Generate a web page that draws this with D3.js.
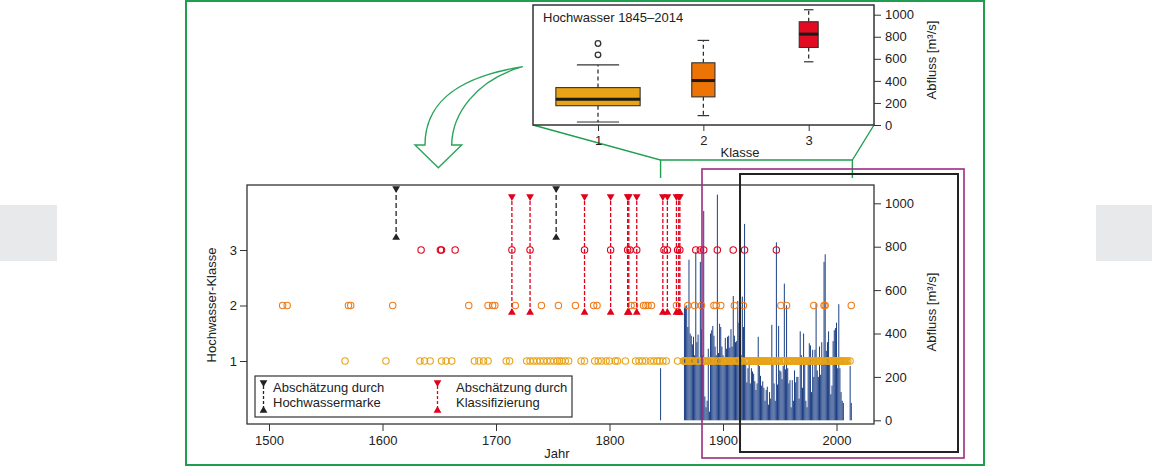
<!DOCTYPE html>
<html>
<head>
	<meta charset="utf-8">
	<title>Hochwasser</title>
	<script src="https://cdn.jsdelivr.net/npm/d3@7/dist/d3.min.js"></script>
	<style>
		body { margin: 0; background: #fff; }
		text { font-family: "Liberation Sans", Arial, sans-serif; font-size: 13px; fill: #222; }
	</style>
</head>
<body>
	<script>
		// Hochwasser-Klassen der einzelnen Jahre
		var klasse1 = [1567, 1603, 1633, 1637, 1642, 1652, 1656, 1661, 1681, 1685, 1689, 1693, 1709, 1712,
			1727, 1730, 1733, 1736, 1739, 1742, 1745, 1748, 1751, 1754, 1756, 1758, 1761, 1764, 1775, 1778,
			1787, 1790, 1793, 1797, 1800, 1805, 1807, 1814, 1823, 1826, 1829, 1832, 1836, 1839, 1842, 1844,
			1847, 1850, 1860,
			1865, 1866, 1867, 1868, 1870, 1871, 1872, 1873, 1874, 1877, 1878, 1879, 1882, 1884, 1885, 1886,
			1887, 1888, 1889, 1890, 1891, 1893, 1896, 1897, 1899, 1900, 1901, 1902, 1903, 1904, 1905, 1906,
			1907, 1908, 1911, 1912, 1913, 1914, 1915, 1916, 1917, 1920, 1921, 1922, 1923, 1924, 1925, 1926,
			1927, 1928, 1929, 1930, 1931, 1932, 1933, 1934, 1935, 1936, 1937, 1938, 1939, 1940, 1941, 1942,
			1943, 1944, 1945, 1946, 1948, 1949, 1950, 1952, 1953, 1954, 1955, 1957, 1958, 1959, 1960, 1961,
			1962, 1963, 1964, 1965, 1966, 1967, 1968, 1969, 1970, 1971, 1972, 1973, 1974, 1975, 1976, 1977,
			1978, 1979, 1981, 1982, 1983, 1984, 1985, 1986, 1987, 1988, 1991, 1992, 1993, 1994, 1995, 1996,
			1997, 1998, 1999, 2000, 2001, 2002, 2003, 2004, 2005, 2006, 2007, 2008, 2009, 2010, 2012];
		var klasse2 = [1512, 1516, 1570, 1572, 1609, 1676, 1693, 1697, 1699, 1717, 1740, 1755, 1770, 1786,
			1789, 1819, 1822, 1830, 1832, 1834, 1837, 1859, 1869, 1875, 1881, 1892, 1894, 1898, 1910, 1918,
			1951, 1956, 1980, 1989, 1990, 2013];
		var klasse3 = [1634, 1651, 1652, 1664, 1714, 1730, 1778, 1801, 1816, 1818, 1824, 1848, 1851, 1860,
			1862, 1876, 1880, 1883, 1895, 1909, 1919, 1947];

		// Abschaetzungen (Abfluss-Spannen in m3/s)
		var markeJahre = [1612, 1753];
		var markeSpanne = [835, 1075];
		var klassJahre = [1714, 1730, 1778, 1801, 1816, 1817, 1824, 1847, 1851, 1859, 1861, 1862];
		var klassSpanne = [490, 1038];

		// gemessene Jahreshoechstabfluesse
		var abflussJahre = [1845,
			1866, 1867, 1868, 1869, 1870, 1871, 1872, 1873, 1874, 1875, 1876, 1877, 1878, 1879, 1880,
			1881, 1882, 1883, 1884, 1885, 1886, 1887, 1888, 1889, 1890, 1891, 1892, 1893, 1894, 1895,
			1896, 1897, 1898, 1899, 1900, 1901, 1902, 1903, 1904, 1905, 1906, 1907, 1908, 1909, 1910,
			1911, 1912, 1913, 1914, 1915, 1916, 1917, 1918, 1919, 1920, 1921, 1922, 1923, 1924, 1925,
			1926, 1927, 1928, 1929, 1930, 1931, 1932, 1933, 1934, 1935, 1936, 1937, 1938, 1939, 1940,
			1941, 1942, 1943, 1944, 1945, 1946, 1947, 1948, 1949, 1950, 1951, 1952, 1953, 1954, 1955,
			1956, 1957, 1958, 1959, 1960, 1961, 1962, 1963, 1964, 1965, 1966, 1967, 1968, 1969, 1970,
			1971, 1972, 1973, 1974, 1975, 1976, 1977, 1978, 1979, 1980, 1981, 1982, 1983, 1984, 1985,
			1986, 1987, 1988, 1989, 1990, 1991, 1992, 1993, 1994, 1995, 1996, 1997, 1998, 1999, 2000,
			2001, 2002, 2003, 2004, 2005, 2006, 2012, 2013];
		var abflussWerte = [240,
			520, 525, 530, 430, 740, 400, 390, 350, 385, 300, 775, 360, 395, 280, 730,
			420, 300, 965, 110, 60, 90, 330, 40, 400, 415, 435, 390, 340, 300, 1040,
			310, 445, 430, 340, 300, 255, 380, 330, 385, 390, 335, 420, 340, 573, 390,
			360, 365, 550, 450, 500, 300, 570, 430, 905, 270, 175, 240, 280, 170, 240,
			225, 215, 180, 140, 170, 385, 250, 205, 160, 180, 150, 90, 140, 155, 72,
			130, 100, 440, 255, 170, 90, 820, 165, 435, 230, 225, 190, 250, 630, 235,
			530, 240, 170, 185, 60, 185, 90, 230, 175, 200, 200, 100, 410, 300, 150,
			400, 255, 90, 60, 260, 355, 345, 130, 325, 200, 325, 540, 230, 200, 340,
			210, 360, 280, 730, 765, 320, 360, 410, 270, 120, 160, 365, 415, 425, 450,
			240, 535, 240, 130, 90, 80, 250, 80];

		// Boxplot Hochwasser 1845-2014
		var boxKlassen = [1, 2, 3];
		var boxUnten = [27, 85, 573];
		var boxQ1 = [175, 255, 703];
		var boxMedian = [233, 403, 824];
		var boxQ3 = [339, 564, 936];
		var boxOben = [545, 767, 1045];
		var ausreisser = [636, 739];

		var jahrTicks = [1500, 1600, 1700, 1800, 1900, 2000];
		var klasseTicks = [1, 2, 3];
		var abflussTicks = [0, 200, 400, 600, 800, 1000];

		var farbe1 = '#e8a317', farbe2 = '#ee7d1c', farbe3 = '#e2001a';
		var gruen = '#1f9e4f';
		var ganzzahl = d3.format('d');

		var svg = d3.select('body').append('svg')
			.attr('width', 1170)
			.attr('height', 466);

		// graue Randflaechen
		svg.append('rect').attr('x', 0).attr('y', 205).attr('width', 57).attr('height', 56).attr('fill', '#e8e9ea');
		svg.append('rect').attr('x', 1096).attr('y', 205).attr('width', 56).attr('height', 56).attr('fill', '#e8e9ea');

		// gruener Rahmen
		svg.append('rect')
			.attr('x', 186).attr('y', 1).attr('width', 798).attr('height', 464)
			.attr('fill', 'none').attr('stroke', gruen).attr('stroke-width', 2);

		// gebogener Pfeil
		svg.append('path')
			.attr('d', 'M522.7,66.7 C470,75 425,95 425,145 L415,145 L438.3,167.7 L461.7,145 L451.7,145 C452,115 475,80 522.7,66.7 Z')
			.attr('fill', '#fff').attr('stroke', '#2aa35a').attr('stroke-width', 1.4);

		// ---------- Hauptdiagramm ----------
		var x = d3.scaleLinear().domain([1500, 2000]).range([269, 836.5]);
		var yK = d3.scaleLinear().domain([1, 3]).range([361, 250]);
		var yQ = d3.scaleLinear().domain([0, 1000]).range([420.3, 203.3]);

		// Verbindung Inset -> Zeitraum
		svg.append('path')
			.attr('d', 'M533,125 L' + x(1845) + ',160 L' + x(1845) + ',178 M' + x(1845) + ',160 L' + x(2014) + ',160 L' + x(2014) + ',178 M' + x(2014) + ',160 L874,125')
			.attr('fill', 'none').attr('stroke', gruen).attr('stroke-width', 1.4);

		var main = svg.append('g');

		main.append('g').selectAll('rect')
			.data(abflussJahre)
			.join('rect')
			.attr('x', function (d) { return x(d) - 0.45; })
			.attr('width', 0.95)
			.attr('y', function (d, i) { return yQ(abflussWerte[i]); })
			.attr('height', function (d, i) { return yQ(0) - yQ(abflussWerte[i]); })
			.attr('fill', '#12367f');

		function punkte(jahre, klasse, farbe) {
			main.append('g').selectAll('circle')
				.data(jahre)
				.join('circle')
				.attr('cx', function (d) { return x(d); })
				.attr('cy', yK(klasse))
				.attr('r', 3.2)
				.attr('fill', 'none')
				.attr('stroke', farbe)
				.attr('stroke-width', 1.1);
		}
		punkte(klasse1, 1, farbe1);
		punkte(klasse2, 2, farbe2);
		punkte(klasse3, 3, farbe3);

		var dreieck = d3.symbol().type(d3.symbolTriangle).size(26);

		function spanne(g, xs, y1, y2, farbe, dash) {
			g.selectAll('line')
				.data(xs)
				.join('line')
				.attr('x1', function (d) { return d; })
				.attr('x2', function (d) { return d; })
				.attr('y1', y1).attr('y2', y2)
				.attr('stroke', farbe).attr('stroke-width', 1.3)
				.attr('stroke-dasharray', dash);
			g.selectAll('path.oben')
				.data(xs)
				.join('path')
				.attr('class', 'oben')
				.attr('d', dreieck)
				.attr('transform', function (d) { return 'translate(' + d + ',' + (y1 + 1.5) + ') rotate(180)'; })
				.attr('fill', farbe);
			g.selectAll('path.unten')
				.data(xs)
				.join('path')
				.attr('class', 'unten')
				.attr('d', dreieck)
				.attr('transform', function (d) { return 'translate(' + d + ',' + (y2 - 1.5) + ')'; })
				.attr('fill', farbe);
		}
		spanne(main.append('g'), markeJahre.map(x), yQ(markeSpanne[1]), yQ(markeSpanne[0]), '#222', '5,3');
		spanne(main.append('g'), klassJahre.map(x), yQ(klassSpanne[1]), yQ(klassSpanne[0]), farbe3, '4,2');

		main.append('rect')
			.attr('x', 247).attr('y', 185).attr('width', 627).attr('height', 239)
			.attr('fill', 'none').attr('stroke', '#333').attr('stroke-width', 1.3);

		main.append('g')
			.attr('transform', 'translate(0,424)')
			.attr('color', '#333')
			.call(d3.axisBottom(x).tickValues(jahrTicks).tickSize(7).tickPadding(5).tickFormat(ganzzahl))
			.call(function (g) { g.select('.domain').remove(); });

		main.append('g')
			.attr('transform', 'translate(247,0)')
			.attr('color', '#333')
			.call(d3.axisLeft(yK).tickValues(klasseTicks).tickSize(7).tickPadding(3).tickFormat(ganzzahl))
			.call(function (g) { g.select('.domain').remove(); });

		main.append('g')
			.attr('transform', 'translate(874,0)')
			.attr('color', '#333')
			.call(d3.axisRight(yQ).tickValues(abflussTicks).tickSize(7).tickPadding(4).tickFormat(ganzzahl))
			.call(function (g) { g.select('.domain').remove(); });

		main.append('text').attr('x', 557).attr('y', 458).attr('text-anchor', 'middle').text('Jahr');
		main.append('text')
			.attr('transform', 'translate(216,305) rotate(-90)')
			.attr('text-anchor', 'middle')
			.text('Hochwasser-Klasse');
		main.append('text')
			.attr('transform', 'translate(936,312) rotate(-90)')
			.attr('text-anchor', 'middle')
			.text('Abfluss [m³/s]');

		// Legende
		var leg = main.append('g');
		leg.append('rect')
			.attr('x', 255).attr('y', 376).attr('width', 317).attr('height', 41)
			.attr('fill', '#fff').attr('stroke', '#333').attr('stroke-width', 1.2);
		spanne(leg.append('g'), [263.5], 381, 412, '#222', '3,2');
		spanne(leg.append('g'), [437.5], 381, 412, farbe3, '3,2');
		leg.append('text').attr('x', 273).attr('y', 392).text('Abschätzung durch');
		leg.append('text').attr('x', 273).attr('y', 407).text('Hochwassermarke');
		leg.append('text').attr('x', 456).attr('y', 392).text('Abschätzung durch');
		leg.append('text').attr('x', 456).attr('y', 407).text('Klassifizierung');

		// Markierungsrahmen
		svg.append('rect')
			.attr('x', x(1881.5)).attr('y', 169).attr('width', 964 - x(1881.5)).attr('height', 289)
			.attr('fill', 'none').attr('stroke', '#9c2c80').attr('stroke-width', 1.6);
		svg.append('rect')
			.attr('x', x(1915)).attr('y', 174).attr('width', 958 - x(1915)).attr('height', 278)
			.attr('fill', 'none').attr('stroke', '#222').attr('stroke-width', 2);

		// ---------- Inset: Boxplot ----------
		var xb = d3.scaleLinear().domain([1, 3]).range([598, 808.7]);
		var yb = d3.scaleLinear().domain([0, 1000]).range([125, 14.7]);
		var boxBreite = [0.8, 0.22, 0.18];
		var boxFarbe = [farbe1, '#ec7404', '#e30b22'];

		var inset = svg.append('g');
		inset.append('rect')
			.attr('x', 533).attr('y', 5).attr('width', 341).attr('height', 120)
			.attr('fill', '#fff').attr('stroke', '#333').attr('stroke-width', 1.5);

		var boxes = inset.selectAll('g.box')
			.data(boxKlassen)
			.join('g')
			.attr('class', 'box');

		boxes.each(function (k, i) {
			var g = d3.select(this);
			var cx = xb(k);
			var hw = (xb(2) - xb(1)) * boxBreite[i] / 2;
			g.append('line')
				.attr('x1', cx).attr('x2', cx).attr('y1', yb(boxQ3[i])).attr('y2', yb(boxOben[i]))
				.attr('stroke', '#222').attr('stroke-width', 1.2).attr('stroke-dasharray', '4,3');
			g.append('line')
				.attr('x1', cx).attr('x2', cx).attr('y1', yb(boxQ1[i])).attr('y2', yb(boxUnten[i]))
				.attr('stroke', '#222').attr('stroke-width', 1.2).attr('stroke-dasharray', '4,3');
			[boxOben[i], boxUnten[i]].forEach(function (v) {
				g.append('line')
					.attr('x1', cx - hw / 2).attr('x2', cx + hw / 2).attr('y1', yb(v)).attr('y2', yb(v))
					.attr('stroke', '#333').attr('stroke-width', 1.2);
			});
			g.append('rect')
				.attr('x', cx - hw).attr('width', 2 * hw)
				.attr('y', yb(boxQ3[i])).attr('height', yb(boxQ1[i]) - yb(boxQ3[i]))
				.attr('fill', boxFarbe[i]).attr('stroke', '#333').attr('stroke-width', 1.1);
			g.append('line')
				.attr('x1', cx - hw).attr('x2', cx + hw).attr('y1', yb(boxMedian[i])).attr('y2', yb(boxMedian[i]))
				.attr('stroke', '#1a1a1a').attr('stroke-width', 3);
		});

		inset.append('g').selectAll('circle')
			.data(ausreisser)
			.join('circle')
			.attr('cx', xb(1))
			.attr('cy', function (d) { return yb(d); })
			.attr('r', 2.8)
			.attr('fill', 'none').attr('stroke', '#333').attr('stroke-width', 1.3);

		inset.append('g')
			.attr('transform', 'translate(0,125)')
			.attr('color', '#333')
			.call(d3.axisBottom(xb).tickValues(boxKlassen).tickSize(6).tickPadding(5).tickFormat(ganzzahl))
			.call(function (g) { g.select('.domain').remove(); });

		inset.append('g')
			.attr('transform', 'translate(874,0)')
			.attr('color', '#333')
			.call(d3.axisRight(yb).tickValues(abflussTicks).tickSize(7).tickPadding(4).tickFormat(ganzzahl))
			.call(function (g) { g.select('.domain').remove(); });

		inset.append('text').attr('x', 543).attr('y', 22).text('Hochwasser 1845–2014');
		inset.append('text').attr('x', 740).attr('y', 157).attr('text-anchor', 'middle').text('Klasse');
		inset.append('text')
			.attr('transform', 'translate(936,60) rotate(-90)')
			.attr('text-anchor', 'middle')
			.text('Abfluss [m³/s]');
	</script>
</body>
</html>
